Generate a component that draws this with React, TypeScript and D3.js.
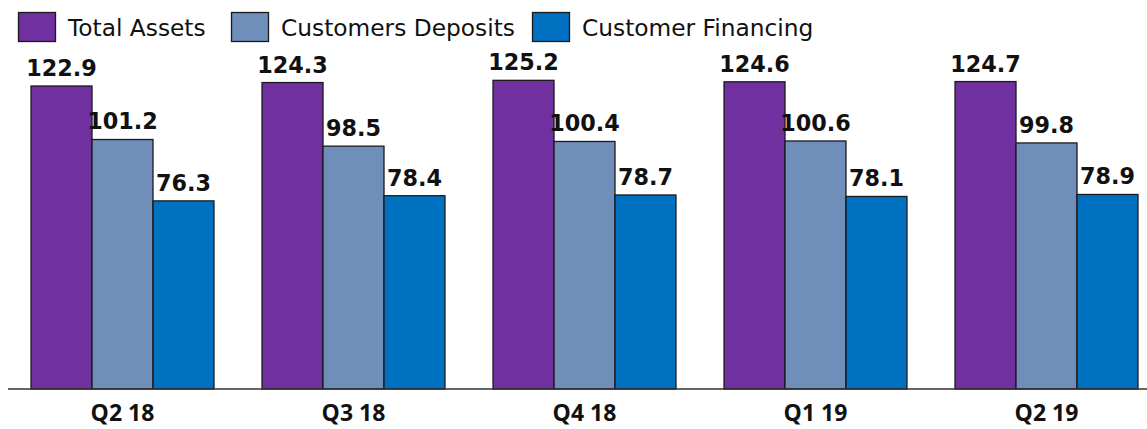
import React from "react";
import * as d3 from "d3";

const categories = ["Q2 18", "Q3 18", "Q4 18", "Q1 19", "Q2 19"];
const seriesNames = ["Total Assets", "Customers Deposits", "Customer Financing"];
const totalAssets = [122.9, 124.3, 125.2, 124.6, 124.7];
const customerDeposits = [101.2, 98.5, 100.4, 100.6, 99.8];
const customerFinancing = [76.3, 78.4, 78.7, 78.1, 78.9];
const colors = ["#7030A0", "#6F8EB9", "#0070C0"];

const W = 1147;
const H = 429;

export default function App() {
  const series = [totalAssets, customerDeposits, customerFinancing];
  const x0 = d3.scaleBand<string>().domain(categories).range([7, 1162]).paddingInner(0.208).paddingOuter(0.104);
  const x1 = d3.scaleBand<string>().domain(seriesNames).range([0, x0.bandwidth()]);
  const y = d3.scaleLinear().domain([0, 122.9]).range([389, 86]);

  const legendX = [18, 231, 532];
  return (
    <svg width={W} height={H} style={{ position: "absolute", left: 0, top: 0, background: "#fff" }}>
      {seriesNames.map((s, i) => (
        <g key={s} transform={`translate(${legendX[i]},12)`}>
          <rect x={0.5} y={0.5} width={37} height={29} fill={colors[i]} stroke="#1a1a1a" strokeWidth={1.3} />
          <text x={50} y={24} fontFamily="DejaVu Sans" fontSize={23.3} fill="#111">{s}</text>
        </g>
      ))}
      {categories.map((c, ci) => (
        <g key={c} transform={`translate(${x0(c)},0)`}>
          {series.map((vals, si) => {
            const v = vals[ci];
            const bx = x1(seriesNames[si])!;
            return (
              <g key={si}>
                <rect x={bx} y={y(v)} width={x1.bandwidth()} height={389 - y(v)} fill={colors[si]} stroke="#1a1a1a" strokeWidth={1.3} />
                <text x={bx + x1.bandwidth() / 2} y={y(v) - 10} textAnchor="middle" fontFamily="DejaVu Sans" fontWeight="bold" fontSize={22.3} fill="#111">
                  {v.toFixed(1)}
                </text>
              </g>
            );
          })}
          <text x={x0.bandwidth() / 2} y={421} textAnchor="middle" fontFamily="Open Sans" fontWeight="bold" fontSize={23} fill="#111">
            {c}
          </text>
        </g>
      ))}
      <line x1={8} x2={W} y1={389} y2={389} stroke="#333" strokeWidth={1.3} />
    </svg>
  );
}
